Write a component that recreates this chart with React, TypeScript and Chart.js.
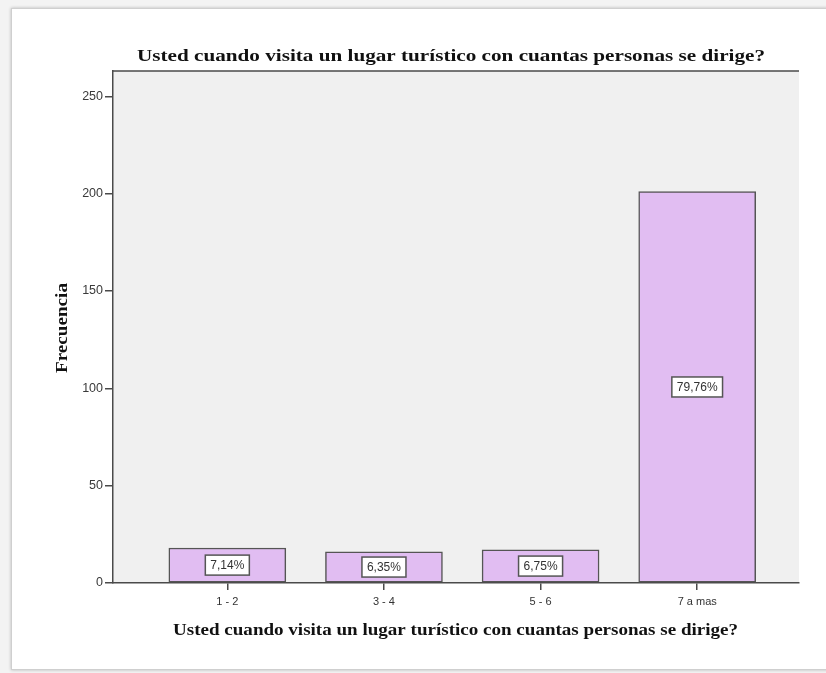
import React, { useEffect, useRef } from "react";
import { Chart, registerables } from "chart.js";

Chart.register(...registerables);

const categories: string[] = ["1 - 2", "3 - 4", "5 - 6", "7 a mas"];
const frequencies: number[] = [18, 16, 17, 201];
const percentages: number[] = [7.14, 6.35, 6.75, 79.76];
const yTicks: number[] = [0, 50, 100, 150, 200, 250];

const titleText = "Usted cuando visita un lugar turístico con cuantas personas se dirige?";
const xTitleText = "Usted cuando visita un lugar turístico con cuantas personas se dirige?";
const yTitleText = "Frecuencia";

const AXIS_COLOR = "#4a4a4a";
const SERIF = '"Liberation Serif", "Times New Roman", serif';
const SANS = '"Liberation Sans", Arial, sans-serif';

function drawStretched(
  ctx: CanvasRenderingContext2D,
  text: string,
  x: number,
  y: number,
  targetWidth: number,
  rotate: boolean
) {
  ctx.save();
  ctx.font = `bold 17px ${SERIF}`;
  ctx.fillStyle = "#111";
  ctx.textBaseline = "alphabetic";
  ctx.textAlign = "left";
  const w = ctx.measureText(text).width;
  const sx = targetWidth / w;
  ctx.translate(x, y);
  if (rotate) ctx.rotate(-Math.PI / 2);
  ctx.scale(sx, 1);
  ctx.fillText(text, 0, 0);
  ctx.restore();
}

const decorPlugin = {
  id: "spssDecor",
  beforeDraw(chart: any) {
    const { ctx, chartArea } = chart;
    ctx.save();
    ctx.fillStyle = "#f0f0f0";
    ctx.fillRect(chartArea.left, chartArea.top, chartArea.right - chartArea.left, chartArea.bottom - chartArea.top);
    ctx.restore();
  },
  afterDraw(chart: any) {
    const { ctx, chartArea } = chart;
    ctx.save();
    ctx.strokeStyle = AXIS_COLOR;
    ctx.lineWidth = 1.5;
    ctx.beginPath();
    ctx.moveTo(chartArea.left, chartArea.top);
    ctx.lineTo(chartArea.right, chartArea.top);
    ctx.stroke();
    ctx.restore();
    drawStretched(ctx, titleText, 137, 61, 628, false);
    drawStretched(ctx, xTitleText, 173, 635, 565, false);
    drawStretched(ctx, yTitleText, 66.5, 373, 90, true);
  },
  afterDatasetsDraw(chart: any) {
    const { ctx } = chart;
    const meta = chart.getDatasetMeta(0);
    ctx.save();
    ctx.font = `12px ${SANS}`;
    meta.data.forEach((bar: any, i: number) => {
      const { x, y, base } = bar.getProps(["x", "y", "base"], true);
      const cy = (y + base) / 2;
      const label = percentages[i].toFixed(2).replace(".", ",") + "%";
      const tw = ctx.measureText(label).width;
      const bw = tw + 10;
      const bh = 20;
      ctx.fillStyle = "#ffffff";
      ctx.fillRect(x - bw / 2, cy - bh / 2, bw, bh);
      ctx.strokeStyle = "#555555";
      ctx.lineWidth = 1.5;
      ctx.strokeRect(x - bw / 2, cy - bh / 2, bw, bh);
      ctx.fillStyle = "#333333";
      ctx.textAlign = "center";
      ctx.textBaseline = "middle";
      ctx.fillText(label, x, cy + 0.5);
    });
    ctx.restore();
  },
};

export default function App() {
  const canvasRef = useRef<HTMLCanvasElement | null>(null);

  useEffect(() => {
    const canvas = canvasRef.current;
    if (!canvas) return;
    const chart = new Chart(canvas, {
      type: "bar",
      data: {
        datasets: [
          {
            label: "Frecuencia",
            data: frequencies.map((v, i) => ({ x: i, y: v })),
            backgroundColor: "#e1bdf2",
            borderColor: "#555555",
            borderWidth: 1.5,
            borderSkipped: false,
            barThickness: 117,
          },
        ],
      },
      options: {
        responsive: false,
        animation: false,
        events: [],
        layout: { padding: { top: 71, right: 27, bottom: 0, left: 0 } },
        plugins: {
          legend: { display: false },
          title: { display: false },
          tooltip: { enabled: false },
        },
        scales: {
          x: {
            type: "linear",
            min: -0.73,
            max: 3.65,
            offset: false,
            afterFit: (s: any) => {
              s.height = 90;
            },
            afterBuildTicks: (s: any) => {
              s.ticks = categories.map((_, i) => ({ value: i }));
            },
            ticks: {
              callback: (v: any) => categories[Number(v)] ?? "",
              font: { family: SANS, size: 11 },
              color: "#333333",
              padding: 5,
              maxRotation: 0,
              autoSkip: false,
            },
            grid: {
              display: true,
              offset: false,
              drawOnChartArea: false,
              drawTicks: true,
              tickLength: 7,
              color: AXIS_COLOR,
              lineWidth: 1.5,
            },
            border: { display: true, color: AXIS_COLOR, width: 1.5 },
          },
          y: {
            type: "linear",
            min: 0,
            max: 263,
            afterFit: (s: any) => {
              s.width = 113;
            },
            afterBuildTicks: (s: any) => {
              s.ticks = yTicks.map((v) => ({ value: v }));
            },
            ticks: {
              font: { family: SANS, size: 12.5 },
              color: "#3a3a3a",
              padding: 2,
            },
            grid: {
              display: true,
              drawOnChartArea: false,
              drawTicks: true,
              tickLength: 8,
              color: AXIS_COLOR,
              lineWidth: 1.5,
            },
            border: { display: true, color: AXIS_COLOR, width: 1.5 },
          },
        },
      },
      plugins: [decorPlugin],
    });
    return () => chart.destroy();
  }, []);

  return (
    <div
      style={{
        position: "fixed",
        left: 0,
        top: 0,
        width: 826,
        height: 673,
        background: "#f3f3f3",
        overflow: "hidden",
      }}
    >
      <div
        style={{
          position: "absolute",
          left: 11,
          top: 8,
          width: 840,
          height: 660,
          background: "#ffffff",
          border: "1px solid #cfcfcf",
          boxShadow: "0 0 3px rgba(0,0,0,0.25)",
        }}
      />
      <canvas
        ref={canvasRef}
        width={826}
        height={673}
        style={{ position: "absolute", left: 0, top: 0, width: 826, height: 673 }}
      />
    </div>
  );
}
